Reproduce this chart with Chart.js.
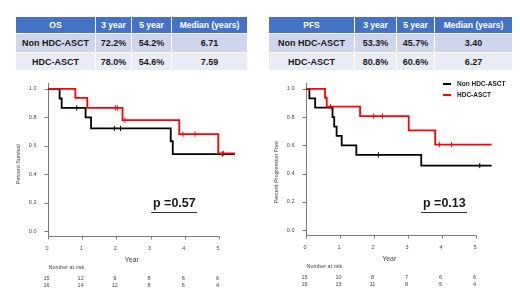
<!DOCTYPE html>
<html>
<head>
<meta charset="utf-8">
<script src="https://cdn.jsdelivr.net/npm/chart.js@4.4.1/dist/chart.umd.min.js"></script>
<style>
  body { margin:0; width:520px; height:292px; background:#fff; position:relative; overflow:hidden;
         font-family:"Liberation Sans", Arial, sans-serif; }
  table.km { position:absolute; top:16px; border-collapse:collapse; table-layout:fixed; font-weight:bold; }
  table.km th, table.km td { border:1px solid #fff; padding:0; text-align:center; white-space:nowrap; }
  table.km th { background:#4472c4; color:#fff; font-size:8.5px; height:16px; }
  table.km td { color:#1a1a1a; font-size:9px; }
  table.km tr.r1 td { background:#cfd5ea; height:18px; }
  table.km tr.r2 td { background:#e9ebf5; height:17px; }
  canvas { position:absolute; top:76px; }
  .pval { position:absolute; font-size:12.5px; font-weight:bold; color:#1a1a1a; line-height:1;
          border-bottom:1.5px solid #333; padding:0 1px 2px 2px; }
</style>
</head>
<body>

<table class="km" style="left:15px;width:232px">
  <colgroup><col style="width:80px"><col style="width:36px"><col style="width:40px"><col style="width:76px"></colgroup>
  <tr><th>OS</th><th>3 year</th><th>5 year</th><th>Median (years)</th></tr>
  <tr class="r1"><td>Non HDC-ASCT</td><td>72.2%</td><td>54.2%</td><td>6.71</td></tr>
  <tr class="r2"><td>HDC-ASCT</td><td>78.0%</td><td>54.6%</td><td>7.59</td></tr>
</table>

<table class="km" style="left:268px;width:244px">
  <colgroup><col style="width:86px"><col style="width:42px"><col style="width:38px"><col style="width:78px"></colgroup>
  <tr><th>PFS</th><th>3 year</th><th>5 year</th><th>Median (years)</th></tr>
  <tr class="r1"><td>Non HDC-ASCT</td><td>53.3%</td><td>45.7%</td><td>3.40</td></tr>
  <tr class="r2"><td>HDC-ASCT</td><td>80.8%</td><td>60.6%</td><td>6.27</td></tr>
</table>

<canvas id="osChart" width="260" height="216" style="left:0"></canvas>
<canvas id="pfsChart" width="260" height="216" style="left:260px"></canvas>

<div class="pval" style="left:151px;top:197px">p =0.57</div>
<div class="pval" style="left:421px;top:197px">p =0.13</div>

<script>
// ── data ─────────────────────────────────────────
const years  = [0, 1, 2, 3, 4, 5];
const yTicks = [0, 0.2, 0.4, 0.6, 0.8, 1.0];
const groups = ['Non HDC-ASCT', 'HDC-ASCT'];

// OS, Non HDC-ASCT
const osNonT    = [0, 0.34, 0.40, 1.10, 1.26, 3.59, 3.65, 5.47];
const osNonS    = [1, 0.933, 0.867, 0.800, 0.722, 0.632, 0.542, 0.542];
const osNonCens = [0.84, 1.94, 2.12, 5.10];
// OS, HDC-ASCT
const osHdcT    = [0, 0.80, 1.15, 2.18, 3.84, 4.98, 5.47];
const osHdcS    = [1, 0.9375, 0.867, 0.780, 0.682, 0.546, 0.546];
const osHdcCens = [1.97, 2.03, 2.25, 3.95, 4.30, 5.13];
const osRiskNon = [15, 12, 9, 8, 6, 6];
const osRiskHdc = [16, 14, 12, 8, 6, 4];

// PFS, Non HDC-ASCT
const pfsNonT    = [0, 0.10, 0.27, 0.78, 0.83, 0.90, 1.05, 1.48, 3.39, 5.46];
const pfsNonS    = [1, 0.933, 0.867, 0.800, 0.733, 0.667, 0.600, 0.533, 0.457, 0.457];
const pfsNonCens = [2.13, 5.11];
// PFS, HDC-ASCT
const pfsHdcT    = [0, 0.56, 0.61, 1.59, 3.02, 3.80, 5.46];
const pfsHdcS    = [1, 0.9375, 0.875, 0.808, 0.707, 0.606, 0.606];
const pfsHdcCens = [0.72, 1.99, 2.25, 3.93, 4.28];
const pfsRiskNon = [15, 10, 8, 7, 6, 6];
const pfsRiskHdc = [16, 13, 11, 8, 5, 4];

// ── helpers ──────────────────────────────────────
const pts = (T, S) => T.map((t, i) => ({ x: t, y: S[i] }));
// KM value at a censor time = last step at or before it
const stepAt = (T, S, t) => { let v = S[0]; T.forEach((tt, i) => { if (tt <= t) v = S[i]; }); return v; };
const censPts = (T, S, C) => C.map(t => ({ x: t, y: stepAt(T, S, t) }));

const FONT = '"Liberation Sans", Arial, sans-serif';

const kmAxes = {
  id: 'kmAxes',
  beforeDatasetsDraw(chart, args, o) {
    const { ctx, scales: { x, y } } = chart;
    const x0 = Math.round(x.getPixelForValue(0)) + 0.5;
    const x5 = x.getPixelForValue(5);
    const yb = Math.round(y.getPixelForValue(y.min)) + 0.5;
    const yt = y.getPixelForValue(y.max);
    ctx.save();
    ctx.strokeStyle = '#7a7a7a';
    ctx.lineWidth = 1;
    ctx.beginPath();
    ctx.moveTo(x0, yt); ctx.lineTo(x0, yb); ctx.lineTo(x5 + 0.5, yb);
    yTicks.forEach(v => { const p = Math.round(y.getPixelForValue(v)) + 0.5; ctx.moveTo(x0 - 4, p); ctx.lineTo(x0, p); });
    years.forEach(v => { const p = Math.round(x.getPixelForValue(v)) + 0.5; ctx.moveTo(p, yb); ctx.lineTo(p, yb + 3); });
    ctx.stroke();

    ctx.fillStyle = '#444';
    ctx.font = '5.5px ' + FONT;
    ctx.textAlign = 'right'; ctx.textBaseline = 'middle';
    yTicks.forEach(v => ctx.fillText(v.toFixed(1), x0 - 12, y.getPixelForValue(v)));

    ctx.textAlign = 'center';
    years.forEach(v => ctx.fillText(String(v), x.getPixelForValue(v) - 1, yb + 12));
    ctx.font = '7px ' + FONT;
    ctx.fillText('Year', (x0 + x5) / 2 - 2, yb + 24);

    ctx.font = '5.5px ' + FONT;
    ctx.textAlign = 'left';
    ctx.fillText('Number at risk', x0, yb + 31);
    ctx.textAlign = 'center';
    o.risk.forEach((row, r) => row.forEach((n, i) =>
      ctx.fillText(String(n), x.getPixelForValue(years[i]) - 1.5, yb + 42 + r * 7)));

    ctx.save();
    ctx.translate(x0 - 30, y.getPixelForValue(o.titleAt));
    ctx.rotate(-Math.PI / 2);
    ctx.font = '5.5px ' + FONT;
    ctx.fillText(o.title, 0, 0);
    ctx.restore();

    if (o.legend) {
      const lx = o.legend.x, ly = o.legend.y;
      ctx.font = 'bold 6.5px ' + FONT;
      ctx.textAlign = 'left';
      ctx.lineWidth = 2;
      o.legend.items.forEach((it, i) => {
        ctx.strokeStyle = it.color;
        ctx.beginPath(); ctx.moveTo(lx, ly + i * 11); ctx.lineTo(lx + 8, ly + i * 11); ctx.stroke();
        ctx.fillStyle = '#222';
        ctx.fillText(it.label, lx + 14, ly + i * 11);
      });
    }
    ctx.restore();
  }
};

function kmChart(id, d) {
  const curve = (label, data, color) => ({
    label, data, borderColor: color, backgroundColor: color, borderWidth: 1.8,
    stepped: true, pointRadius: 0, fill: false, clip: false
  });
  const cens = (data, color) => ({
    label: '', data, showLine: false, borderColor: color, backgroundColor: color,
    pointStyle: 'line', rotation: 90, pointRadius: 2.6, borderWidth: 1, clip: false
  });
  return new Chart(document.getElementById(id), {
    type: 'line',
    data: {
      datasets: [
        curve(groups[1], pts(d.hT, d.hS), '#ff0000'),
        cens(censPts(d.hT, d.hS, d.hC), '#ff0000'),
        curve(groups[0], pts(d.nT, d.nS), '#000000'),
        cens(censPts(d.nT, d.nS, d.nC), '#000000')
      ]
    },
    options: {
      responsive: false, animation: false, devicePixelRatio: 1,
      layout: { padding: d.pad },
      scales: {
        x: { type: 'linear', display: false, min: 0, max: 5.5 },
        y: { type: 'linear', display: false, min: -0.035, max: 1.042 }
      },
      plugins: {
        legend: { display: false }, tooltip: { enabled: false },
        kmAxes: { risk: d.risk, title: d.title, titleAt: d.titleAt, legend: d.legend }
      }
    },
    plugins: [kmAxes]
  });
}

kmChart('osChart', {
  nT: osNonT, nS: osNonS, nC: osNonCens,
  hT: osHdcT, hS: osHdcS, hC: osHdcCens,
  risk: [osRiskNon, osRiskHdc],
  title: 'Percent Survival', titleAt: 0.47,
  pad: { left: 48, right: 24, top: 7, bottom: 56 }
});

kmChart('pfsChart', {
  nT: pfsNonT, nS: pfsNonS, nC: pfsNonCens,
  hT: pfsHdcT, hS: pfsHdcS, hC: pfsHdcCens,
  risk: [pfsRiskNon, pfsRiskHdc],
  title: 'Percent Progression Free', titleAt: 0.41,
  pad: { left: 46, right: 27, top: 7, bottom: 57 },
  legend: { x: 183, y: 8, items: [{ label: groups[0], color: '#000' }, { label: groups[1], color: '#ff0000' }] }
});
</script>
</body>
</html>
